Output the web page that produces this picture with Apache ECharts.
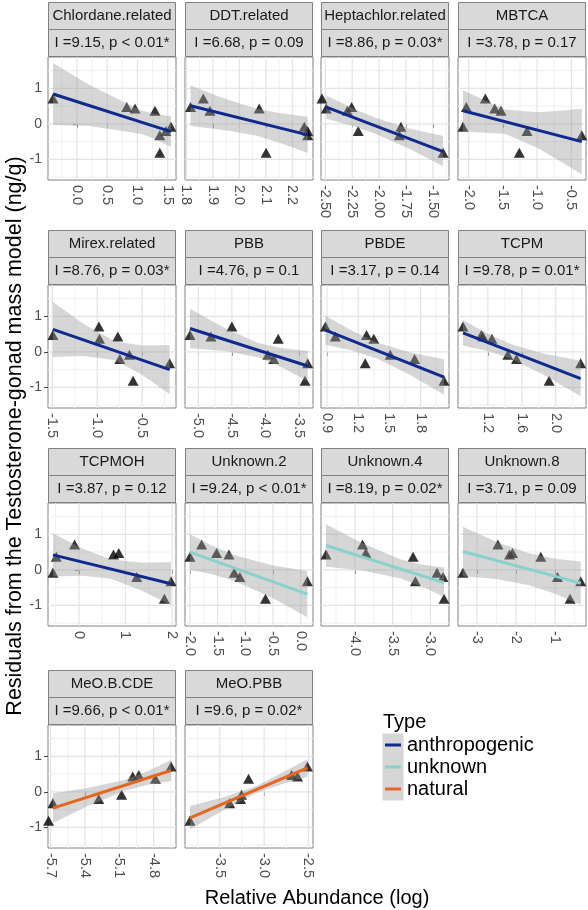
<!DOCTYPE html>
<html><head><meta charset="utf-8">
<script src="https://cdn.jsdelivr.net/npm/echarts@6/dist/echarts.min.js"></script>
<style>html,body{margin:0;padding:0;background:#fff}#c{width:588px;height:910px}</style>
</head><body><div id="c"></div>
<script>
const FONT = '"Liberation Sans", Arial, Helvetica, sans-serif';

const panelNames = ['Chlordane.related','DDT.related','Heptachlor.related','MBTCA','Mirex.related','PBB','PBDE','TCPM','TCPMOH','Unknown.2','Unknown.4','Unknown.8','MeO.B.CDE','MeO.PBB'];
const statLabels = ['I =9.15, p < 0.01*','I =6.68, p = 0.09','I =8.86, p = 0.03*','I =3.78, p = 0.17','I =8.76, p = 0.03*','I =4.76, p = 0.1','I =3.17, p = 0.14','I =9.78, p = 0.01*','I =3.87, p = 0.12','I =9.24, p < 0.01*','I =8.19, p = 0.02*','I =3.71, p = 0.09','I =9.66, p < 0.01*','I =9.6, p = 0.02*'];
const panelType = [0,0,0,0,0,0,0,0,0,1,1,1,2,2];
const typeNames = ['anthropogenic','unknown','natural'];
const typeColors = ['#0f2a8f','#8ad1ce','#e4661f'];

// residuals of the 8 samples (same in every panel)
const residual = [0.71, 0.47, 0.43, 0.37, -0.08, -0.2, -0.32, -0.81];

// relative abundance (log) of each sample, per compound class
const abundChlordane = [-0.395, 0.824, 0.96, 1.29, 1.555, 1.47, 1.37, 1.37];
const abundDDT       = [1.864, 1.816, 2.075, 1.889, 2.245, 2.258, 2.258, 2.101];
const abundHepta     = [-2.531, -2.255, -2.491, -2.295, -1.797, -2.194, -1.812, -1.405];
const abundMBTCA     = [-1.756, -2.034, -1.62, -1.528, -2.083, -1.148, -0.348, -1.26];
const abundMirex     = [-0.981, -1.493, -0.770, -0.974, -0.641, -0.748, -0.193, -0.6];
const abundPBB       = [-4.5, -5.124, -4.812, -3.81, -3.965, -3.876, -3.371, -3.411];
const abundPBDE      = [0.884, 1.28, 0.98, 1.35, 1.508, 1.742, 1.267, 2.025];
const abundTCPM      = [0.906, 1.122, 1.14, 1.247, 1.435, 1.537, 2.294, 1.922];
const abundTCPMOH    = [-0.093, 0.857, 0.743, -0.486, -0.557, 1.243, 1.979, 1.836];
const abundUnk2      = [-1.79, -1.52, -1.297, -2.0, -1.201, -1.099, 0.12, -0.637];
const abundUnk4      = [-3.899, -3.855, -4.383, -3.229, -2.912, -2.833, -3.198, -2.819];
const abundUnk8      = [-2.464, -2.089, -2.166, -1.366, -3.357, -0.94, -0.345, -0.617];
const abundMeOBCDE   = [-4.648, -4.93, -4.983, -4.785, -5.08, -5.28, -5.68, -5.718];
const abundMeOPBB    = [-2.511, -2.69, -2.623, -3.175, -3.254, -3.265, -3.388, -3.836];
const abundance = [abundChlordane, abundDDT, abundHepta, abundMBTCA, abundMirex, abundPBB, abundPBDE, abundTCPM, abundTCPMOH, abundUnk2, abundUnk4, abundUnk8, abundMeOBCDE, abundMeOPBB];

// x axis limits and ticks
const xMin = [-0.478, 1.795, -2.54, -2.156, -1.548, -5.198, 0.842, 0.847, -0.664, -2.09, -4.449, -3.485, -5.723, -3.892];
const xMax = [1.638, 2.278, -1.35, -0.286, -0.122, -3.292, 2.073, 2.357, 2.086, 0.222, -2.753, -0.209, -4.605, -2.448];
const xTickLabels = [
  ['0.0','0.5','1.0','1.5'],
  ['1.8','1.9','2.0','2.1','2.2'],
  ['-2.50','-2.25','-2.00','-1.75','-1.50'],
  ['-2.0','-1.5','-1.0','-0.5'],
  ['-1.5','-1.0','-0.5'],
  ['-5.0','-4.5','-4.0','-3.5'],
  ['0.9','1.2','1.5','1.8'],
  ['1.2','1.6','2.0'],
  ['0','1','2'],
  ['-2.0','-1.5','-1.0','-0.5','0.0'],
  ['-4.0','-3.5','-3.0'],
  ['-3','-2','-1'],
  ['-5.7','-5.4','-5.1','-4.8'],
  ['-3.5','-3.0','-2.5']
];
const xMinorTicks = [
  [-0.25,0.25,0.75,1.25],
  [1.85,1.95,2.05,2.15,2.25],
  [-2.375,-2.125,-1.875,-1.625,-1.375],
  [-1.75,-1.25,-0.75],
  [-1.25,-0.75,-0.25],
  [-4.75,-4.25,-3.75],
  [1.05,1.35,1.65,1.95],
  [1.0,1.4,1.8,2.2],
  [-0.5,0.5,1.5],
  [-1.75,-1.25,-0.75,-0.25],
  [-4.25,-3.75,-3.25],
  [-2.5,-1.5,-0.5],
  [-5.55,-5.25,-4.95,-4.65],
  [-3.75,-3.25,-2.75]
];
const yTickLabels = ['-1','0','1'];
const yMinorTicks = [-1.5,-0.5,0.5,1.5];
const yMin = -1.58, yMax = 1.88;

// fitted regression line (end points) and confidence band
const fitX = [[-0.395,1.555],[1.816,2.258],[-2.491,-1.405],[-2.083,-0.348],[-1.493,-0.193],[-5.124,-3.371],[0.884,2.025],[0.906,2.294],[-0.557,1.979],[-2.0,0.12],[-4.383,-2.819],[-3.357,-0.345],[-5.68,-4.648],[-3.836,-2.511]];
const fitY = [[0.84,-0.22],[0.507,-0.31],[0.47,-0.78],[0.366,-0.5],[0.63,-0.5],[0.657,-0.4],[0.61,-0.71],[0.535,-0.751],[0.42,-0.39],[0.5,-0.685],[0.685,-0.36],[0.516,-0.375],[-0.46,0.6],[-0.732,0.676]];
const bandX = [
  [-0.395,0.2,1.055,1.3,1.555],
  [1.816,1.94,2.063,2.16,2.258],
  [-2.491,-2.25,-2.04,-1.72,-1.405],
  [-2.083,-1.472,-1.0,-0.65,-0.348],
  [-1.493,-1.15,-0.8,-0.5,-0.193],
  [-5.124,-4.6,-4.109,-3.75,-3.371],
  [0.884,1.13,1.38,1.7,2.025],
  [0.906,1.18,1.45,1.85,2.294],
  [-0.557,0.07,0.69,1.33,1.979],
  [-2.0,-1.6,-1.178,-0.5,0.12],
  [-4.383,-3.9,-3.391,-3.1,-2.819],
  [-3.357,-2.5,-1.668,-1.0,-0.345],
  [-5.68,-5.4,-5.055,-4.85,-4.648],
  [-3.836,-3.45,-3.093,-2.8,-2.511]
];
const bandUpper = [
  [1.71,1.097,0.382,0.275,0.21],
  [1.077,0.72,0.43,0.29,0.2],
  [0.80,0.443,0.176,-0.132,-0.34],
  [0.946,0.404,0.324,0.367,0.425],
  [1.405,0.782,0.291,0.177,0.19],
  [1.21,0.661,0.245,0.099,0.03],
  [1.02,0.608,0.26,-0.019,-0.21],
  [0.892,0.529,0.231,-0.045,-0.251],
  [1.03,0.603,0.292,0.208,0.21],
  [1.0,0.676,0.4,0.119,-0.035],
  [1.285,0.748,0.294,0.142,0.063],
  [1.211,0.78,0.463,0.312,0.235],
  [-0.04,0.091,0.332,0.589,0.896],
  [-0.402,-0.142,0.158,0.53,0.926]
];
const bandLower = [
  [-0.03,-0.063,-0.278,-0.437,-0.65],
  [-0.063,-0.17,-0.33,-0.55,-0.82],
  [0.14,-0.057,-0.274,-0.702,-1.19],
  [-0.214,-0.282,-0.672,-1.065,-1.425],
  [-0.145,-0.118,-0.235,-0.643,-1.19],
  [0.102,0.021,-0.155,-0.441,-0.83],
  [0.2,0.042,-0.188,-0.649,-1.21],
  [0.178,0.033,-0.169,-0.635,-1.251],
  [-0.19,-0.163,-0.248,-0.572,-0.99],
  [0.0,-0.124,-0.32,-0.797,-1.335],
  [0.085,-0.022,-0.246,-0.482,-0.757],
  [-0.179,-0.256,-0.431,-0.676,-0.985],
  [-0.88,-0.435,0.032,0.197,0.304],
  [-1.062,-0.502,-0.042,0.21,0.426]
];

// ---------- layout ----------
const colLeft = [48, 185, 321, 458], panelW = 128;
const rowTop = [57, 285, 503, 725], panelH = 123;

const chart = echarts.init(document.getElementById('c'), null, {renderer: 'canvas'});
const grids = [], xAxes = [], yAxes = [], series = [], graphics = [];

panelNames.forEach((name, i) => {
  const col = i % 4, row = Math.floor(i / 4);
  const left = colLeft[col], top = rowTop[row];
  grids.push({left: left, top: top, width: panelW, height: panelH, show: true,
    backgroundColor: '#ffffff', borderColor: '#808080', borderWidth: 1});
  const tickVals = xTickLabels[i].map(Number);
  const labs = xTickLabels[i];
  xAxes.push({
    type: 'value', gridIndex: i, min: xMin[i], max: xMax[i],
    axisLine: {show: false}, splitLine: {show: false},
    axisTick: {show: true, customValues: tickVals, length: 4, lineStyle: {color: '#444', width: 1}},
    axisLabel: {customValues: tickVals, rotate: -90, margin: 5, fontSize: 14.5, color: '#4d4d4d', fontFamily: FONT,
      formatter: v => { const k = tickVals.findIndex(t => Math.abs(t - v) < 1e-6); return k >= 0 ? labs[k] : ''; }}
  });
  const yVals = yTickLabels.map(Number);
  yAxes.push({
    type: 'value', gridIndex: i, min: yMin, max: yMax,
    axisLine: {show: false}, splitLine: {show: false},
    axisTick: {show: col === 0, customValues: yVals, length: 4, lineStyle: {color: '#444', width: 1}},
    axisLabel: {show: col === 0, customValues: yVals, margin: 6, fontSize: 14, color: '#4d4d4d', fontFamily: FONT,
      formatter: v => { const k = yVals.findIndex(t => Math.abs(t - v) < 1e-6); return k >= 0 ? yTickLabels[k] : ''; }}
  });

  // grid lines
  series.push({
    type: 'custom', xAxisIndex: i, yAxisIndex: i, z: 1, silent: true, clip: true,
    data: [[xMin[i], yMin]],
    renderItem: (params, api) => {
      const cs = params.coordSys;
      const ch = [];
      const vline = (v, c, w) => { const p = api.coord([v, yMin]); ch.push({type: 'line', shape: {x1: p[0], y1: cs.y, x2: p[0], y2: cs.y + cs.height}, style: {stroke: c, lineWidth: w}}); };
      const hline = (v, c, w) => { const p = api.coord([xMin[i], v]); ch.push({type: 'line', shape: {x1: cs.x, y1: p[1], x2: cs.x + cs.width, y2: p[1]}, style: {stroke: c, lineWidth: w}}); };
      xMinorTicks[i].forEach(v => vline(v, '#f0f0f0', 1));
      yMinorTicks.forEach(v => hline(v, '#f0f0f0', 1));
      tickVals.forEach(v => vline(v, '#e4e4e4', 1.2));
      yVals.forEach(v => hline(v, '#e4e4e4', 1.2));
      return {type: 'group', children: ch};
    }
  });
  // points
  series.push({
    type: 'scatter', xAxisIndex: i, yAxisIndex: i, z: 2, silent: true,
    symbol: 'triangle', symbolSize: [11, 10], itemStyle: {color: '#000000'},
    data: abundance[i].map((x, k) => [x, residual[k]])
  });
  // confidence band
  series.push({
    type: 'custom', xAxisIndex: i, yAxisIndex: i, z: 3, silent: true, clip: true,
    data: [[bandX[i][0], bandUpper[i][0]]],
    renderItem: (params, api) => {
      const pts = [];
      for (let k = 0; k < bandX[i].length; k++) pts.push(api.coord([bandX[i][k], bandUpper[i][k]]));
      for (let k = bandX[i].length - 1; k >= 0; k--) pts.push(api.coord([bandX[i][k], bandLower[i][k]]));
      return {type: 'polygon', shape: {points: pts}, style: {fill: 'rgba(153,153,153,0.4)'}};
    }
  });
  // fit line
  series.push({
    type: 'line', xAxisIndex: i, yAxisIndex: i, z: 4, silent: true,
    symbol: 'none', showSymbol: false,
    lineStyle: {color: typeColors[panelType[i]], width: 3},
    data: fitX[i].map((x, k) => [x, fitY[i][k]])
  });

  // strips
  const stripY1 = top - 55, stripY2 = top - 28;
  graphics.push({type: 'rect', shape: {x: left + 0.5, y: stripY1 + 0.5, width: panelW - 1, height: 27}, style: {fill: '#d9d9d9', stroke: '#808080', lineWidth: 1}});
  graphics.push({type: 'rect', shape: {x: left + 0.5, y: stripY2 + 0.5, width: panelW - 1, height: 27}, style: {fill: '#d9d9d9', stroke: '#808080', lineWidth: 1}});
  graphics.push({type: 'text', x: left + panelW / 2, y: stripY1 + 14, style: {text: name, fill: '#1a1a1a', font: '15px ' + FONT, textAlign: 'center', textVerticalAlign: 'middle', verticalAlign: 'middle'}});
  graphics.push({type: 'text', x: left + panelW / 2, y: stripY2 + 14, style: {text: statLabels[i], fill: '#1a1a1a', font: '15px ' + FONT, textAlign: 'center', textVerticalAlign: 'middle', verticalAlign: 'middle'}});
});

// axis titles
graphics.push({type: 'text', x: 15, y: 436, rotation: Math.PI / 2, style: {text: 'Residuals from the Testosterone-gonad mass model (ng/g)', fill: '#000', font: '21.5px ' + FONT, textAlign: 'center', textVerticalAlign: 'middle', verticalAlign: 'middle'}});
graphics.push({type: 'text', x: 317, y: 898, style: {text: 'Relative Abundance (log)', fill: '#000', font: '20px ' + FONT, textAlign: 'center', textVerticalAlign: 'middle', verticalAlign: 'middle'}});

// legend
graphics.push({type: 'text', x: 383, y: 722, style: {text: 'Type', fill: '#000', font: '20px ' + FONT, textAlign: 'left', textVerticalAlign: 'middle', verticalAlign: 'middle'}});
graphics.push({type: 'rect', shape: {x: 382.5, y: 733.5, width: 21, height: 67}, style: {fill: '#d6d6d6'}});
typeNames.forEach((t, k) => {
  const yy = 745 + k * 22;
  graphics.push({type: 'line', shape: {x1: 385, y1: yy, x2: 401, y2: yy}, style: {stroke: typeColors[k], lineWidth: 3}});
  graphics.push({type: 'text', x: 407, y: yy, style: {text: t, fill: '#000', font: '20px ' + FONT, textAlign: 'left', textVerticalAlign: 'middle', verticalAlign: 'middle'}});
});

chart.setOption({
  animation: false,
  backgroundColor: '#ffffff',
  textStyle: {fontFamily: FONT},
  grid: grids, xAxis: xAxes, yAxis: yAxes, series: series,
  graphic: {elements: graphics}
});
</script></body></html>
